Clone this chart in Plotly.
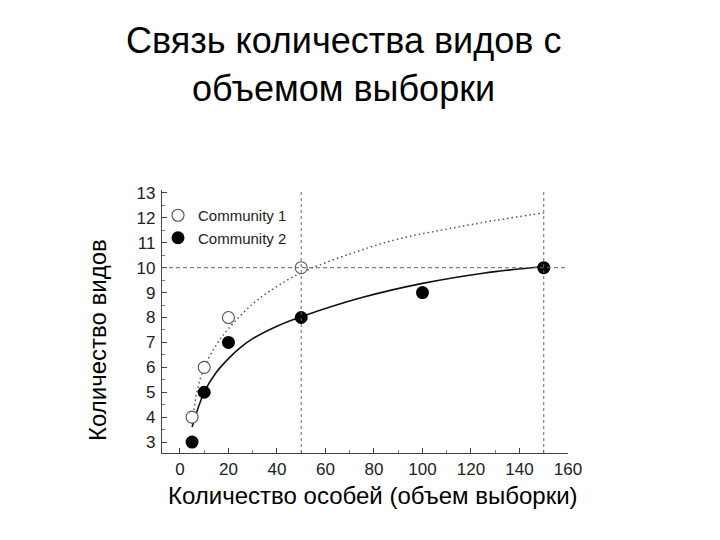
import plotly.graph_objects as go

# ---- data ----
c1_x = [5, 10, 20, 50]
c1_y = [4, 6, 8, 10]
c2_x = [5, 10, 20, 50, 100, 150]
c2_y = [3, 5, 7, 8, 9, 10]

c1_curve_x = [5, 7, 10, 15, 20, 30, 40, 50, 70, 90, 110, 130, 150]
c1_curve_y = [3.75, 5.0, 6.0, 6.9, 7.55, 8.55, 9.25, 9.8, 10.55, 11.15, 11.55, 11.9, 12.2]
c2_curve_x = [5, 10, 15, 20, 25, 30, 40, 50, 75, 100, 125, 150]
c2_curve_y = [3.6, 5.0, 5.8, 6.35, 6.8, 7.15, 7.65, 8.03, 8.8, 9.37, 9.78, 10.05]

ref_x = [50, 150]
ref_y = [10]

x_ticks = [0, 20, 40, 60, 80, 100, 120, 140, 160]
y_ticks = [3, 4, 5, 6, 7, 8, 9, 10, 11, 12, 13]

title_lines = ["Связь количества видов с", "объемом выборки"]
x_title = "Количество особей (объем выборки)"
y_title = "Количество видов"

FONT = "Liberation Sans, Arial, sans-serif"

fig = go.Figure()

fig.add_trace(go.Scatter(x=c1_curve_x, y=c1_curve_y, mode="lines",
                         line=dict(color="#555555", width=1.5, dash="1.5px,3px", shape="spline"),
                         showlegend=False, hoverinfo="skip"))
fig.add_trace(go.Scatter(x=c2_curve_x, y=c2_curve_y, mode="lines",
                         line=dict(color="#111111", width=1.6, shape="spline"),
                         showlegend=False, hoverinfo="skip"))

for xv in ref_x:
    fig.add_vline(x=xv, line=dict(color="#666666", width=1, dash="3px,3px"))
for yv in ref_y:
    fig.add_hline(y=yv, line=dict(color="#666666", width=1, dash="4px,3px"))

fig.add_trace(go.Scatter(x=c1_x, y=c1_y, mode="markers", name="Community 1",
                         marker=dict(size=12, color="white", symbol="circle",
                                     line=dict(color="#555555", width=1.1))))
fig.add_trace(go.Scatter(x=c2_x, y=c2_y, mode="markers", name="Community 2",
                         marker=dict(size=13, color="black", symbol="circle",
                                     line=dict(color="black", width=0))))

L, R, T, B = 162, 152, 190, 87
ph = 540 - T - B
pw = 720 - L - R

def py(pix):
    return (540 - B - pix) / ph

def px(pix):
    return (pix - L) / pw

annotations = [
    dict(text=title_lines[0], x=px(343), y=py(41), xref="paper", yref="paper",
         showarrow=False, xanchor="center", yanchor="middle",
         font=dict(family=FONT, size=36, color="black")),
    dict(text=title_lines[1], x=px(343), y=py(89), xref="paper", yref="paper",
         showarrow=False, xanchor="center", yanchor="middle",
         font=dict(family=FONT, size=36, color="black")),
    dict(text=x_title, x=px(373), y=py(495), xref="paper", yref="paper",
         showarrow=False, xanchor="center", yanchor="middle",
         font=dict(family=FONT, size=24, color="black")),
    dict(text=y_title, x=px(97), y=py(340), xref="paper", yref="paper",
         showarrow=False, xanchor="center", yanchor="middle", textangle=-90,
         font=dict(family=FONT, size=24, color="black")),
]

fig.update_layout(
    width=720, height=540,
    margin=dict(l=L, r=R, t=T, b=B),
    paper_bgcolor="white", plot_bgcolor="white",
    annotations=annotations,
    showlegend=True,
    legend=dict(x=px(158), y=py(199), xanchor="left", yanchor="top",
                bgcolor="rgba(0,0,0,0)", borderwidth=0,
                font=dict(family=FONT, size=15, color="#222222"),
                itemwidth=30, tracegroupgap=0),
    xaxis=dict(range=[-7.4, 160], tickvals=x_ticks, ticktext=[str(v) for v in x_ticks],
               ticks="inside", ticklen=5, tickcolor="#444444",
               showline=True, linecolor="#444444", linewidth=1.2,
               showgrid=False, zeroline=False,
               minor=dict(dtick=10, ticks="inside", ticklen=3, tickcolor="#777777"),
               tickfont=dict(family=FONT, size=17, color="#222222")),
    yaxis=dict(range=[2.56, 13.12], tickvals=y_ticks, ticktext=[str(v) for v in y_ticks],
               ticks="inside", ticklen=5, tickcolor="#444444",
               showline=True, linecolor="#444444", linewidth=1.2,
               showgrid=False, zeroline=False, ticklabelstandoff=2,
               minor=dict(dtick=0.5, ticks="inside", ticklen=3, tickcolor="#777777"),
               tickfont=dict(family=FONT, size=17, color="#222222")),
)

fig.write_html("out.html")
